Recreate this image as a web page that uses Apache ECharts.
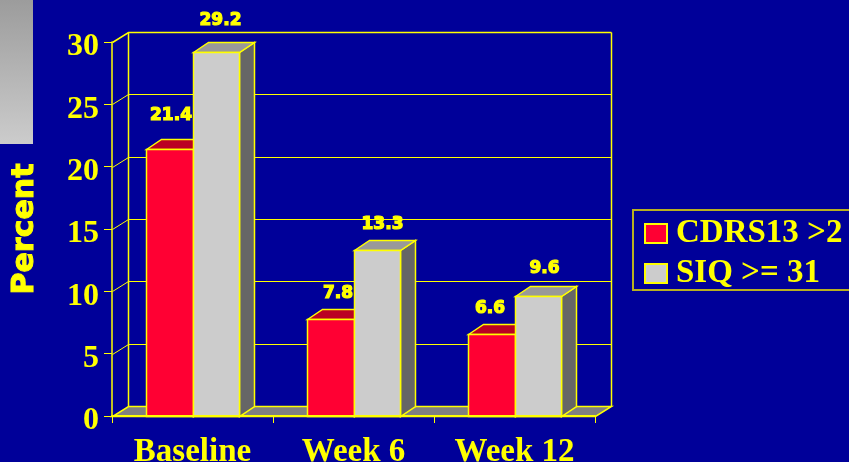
<!DOCTYPE html>
<html>
<head>
<meta charset="utf-8">
<style>html,body{margin:0;padding:0;background:#000099}#chart{width:849px;height:462px}</style>
<script src="https://cdn.jsdelivr.net/npm/echarts@6/dist/echarts.min.js"></script>
</head>
<body>
<div id="chart"></div>
<script>
// Chart values
const categories = ['Baseline', 'Week 6', 'Week 12'];
const cdrsValues = [21.4, 7.8, 6.6];
const siqValues = [29.2, 13.3, 9.6];
const yTicks = [0, 5, 10, 15, 20, 25, 30];
const seriesNames = ['CDRS13 >2', 'SIQ >= 31'];

// Pseudo-3D look
const DEPTH_X = 16, DEPTH_Y = -10, BAR_DX = 15;
const BAR_SHARE = 0.289;
const YELLOW = '#ffff00';
const SERIF = '"Liberation Serif", serif';

// Hand placement of the value labels, relative to each bar's front top edge
const cdrsNudge = [[1, -34], [7, -26], [-2, -26]];
const siqNudge = [[4, -32], [5, -26], [6, -28]];

const snap = v => Math.round(v) + 0.5;
const line = (points, width, color) => ({
  type: 'polyline', shape: { points },
  style: { stroke: color || YELLOW, lineWidth: width, fill: null }, silent: true
});

// Floor, back wall and the gridlines that wrap from the side wall to the back wall
function renderWall(params, api) {
  const g = params.coordSys;
  const x0 = snap(g.x), x1 = snap(g.x + g.width);
  const tick = api.value(0);
  const y = snap(api.coord([0, tick])[1]);
  const children = [];
  if (tick === 0) {
    const topY = snap(api.coord([0, 30])[1]);
    children.push({
      type: 'polygon',
      shape: { points: [[x0, y], [x1, y], [x1 + DEPTH_X, y + DEPTH_Y], [x0 + DEPTH_X, y + DEPTH_Y]] },
      style: { fill: '#808080', stroke: YELLOW, lineWidth: 1.5 }, silent: true
    });
    children.push(line([[x0 + DEPTH_X, y + DEPTH_Y], [x0 + DEPTH_X, topY + DEPTH_Y]], 1.5));
    children.push(line([[x1 + DEPTH_X, y + DEPTH_Y], [x1 + DEPTH_X, topY + DEPTH_Y]], 1.5));
  } else {
    children.push(line([[x0, y], [x0 + DEPTH_X, y + DEPTH_Y], [x1 + DEPTH_X, y + DEPTH_Y]], tick === 30 ? 1.5 : 1));
  }
  return { type: 'group', children };
}

// One 3D bar: front, top and side faces plus its value label
function barRenderer(slot, front, top, side, nudge) {
  return function (params, api) {
    const i = api.value(0), v = api.value(1);
    const band = api.size([1, 0])[0];
    const w = band * BAR_SHARE;
    const c = api.coord([i, v]);
    const base = api.coord([i, 0]);
    const xl = snap(c[0] + slot * w), xr = snap(c[0] + (slot + 1) * w);
    const yt = snap(c[1]), yb = snap(base[1]);
    const dx = BAR_DX, dy = DEPTH_Y;
    const stroke = { stroke: YELLOW, lineWidth: 1.5 };
    const n = nudge[i];
    return {
      type: 'group',
      children: [
        { type: 'polygon', shape: { points: [[xr, yt], [xr + dx, yt + dy], [xr + dx, yb + dy], [xr, yb]] },
          style: Object.assign({ fill: side }, stroke) },
        { type: 'polygon', shape: { points: [[xl, yt], [xl + dx, yt + dy], [xr + dx, yt + dy], [xr, yt]] },
          style: Object.assign({ fill: top }, stroke) },
        { type: 'rect', shape: { x: xl, y: yt, width: xr - xl, height: yb - yt },
          style: Object.assign({ fill: front }, stroke) },
        { type: 'text', x: (xl + xr) / 2 + n[0], y: yt + n[1],
          style: {
            text: v.toFixed(1), fill: YELLOW, align: 'center', verticalAlign: 'middle',
            font: 'bold 17px "DejaVu Sans"', stroke: YELLOW, lineWidth: 1.2
          } }
      ]
    };
  };
}

const chart = echarts.init(document.getElementById('chart'), null, { renderer: 'canvas' });
chart.setOption({
  animation: false,
  backgroundColor: '#000099',
  graphic: [{
    type: 'rect', left: 0, top: 0, z: 1,
    shape: { width: 33, height: 144 },
    style: {
      fill: new echarts.graphic.LinearGradient(0, 0, 0, 1, [
        { offset: 0, color: '#9c9c9c' }, { offset: 1, color: '#cccccc' }
      ])
    }
  }],
  grid: { left: 112, right: 254, top: 42, bottom: 46, outerBoundsMode: 'none' },
  legend: {
    data: seriesNames, orient: 'vertical', left: 633, top: 210,
    padding: [7, 20, 0, 11], itemWidth: 22, itemHeight: 19, itemGap: 7,
    icon: 'rect',
    borderColor: '#b8b020', borderWidth: 2,
    textStyle: { color: YELLOW, fontFamily: SERIF, fontWeight: 'bold', fontSize: 33, padding: [0, 0, 0, 4] }
  },
  xAxis: {
    type: 'category', data: categories, z: 5,
    axisLine: { lineStyle: { color: YELLOW, width: 2 } },
    axisTick: { show: true, alignWithLabel: false, length: 7, lineStyle: { color: YELLOW } },
    axisLabel: { color: YELLOW, fontFamily: SERIF, fontWeight: 'bold', fontSize: 33, margin: 20 }
  },
  yAxis: {
    type: 'value', min: 0, max: 30, interval: 5,
    name: 'Percent', nameLocation: 'middle', nameGap: 72, nameRotate: 90,
    nameTextStyle: {
      color: YELLOW, fontFamily: '"DejaVu Sans"', fontWeight: 'bold', fontSize: 30,
      textBorderColor: YELLOW, textBorderWidth: 1
    },
    axisLine: { show: true, lineStyle: { color: YELLOW, width: 1.5 } },
    axisTick: { show: true, length: 8, lineStyle: { color: YELLOW } },
    axisLabel: {
      color: YELLOW, fontFamily: SERIF, fontWeight: 'bold', fontSize: 32, margin: 13,
      verticalAlign: 'top', lineHeight: 10
    },
    splitLine: { show: false }
  },
  series: [
    { type: 'custom', silent: true, data: yTicks.map(t => [t]), encode: { y: 0 }, renderItem: renderWall, z: 1 },
    {
      name: seriesNames[0], type: 'custom', z: 2, clip: false,
      itemStyle: { color: '#ff0033', borderColor: YELLOW, borderWidth: 1 },
      data: cdrsValues.map((v, i) => [i, v]), encode: { x: 0, y: 1 },
      renderItem: barRenderer(-1, '#ff0033', '#bb0022', '#880022', cdrsNudge)
    },
    {
      name: seriesNames[1], type: 'custom', z: 3, clip: false,
      itemStyle: { color: '#cccccc', borderColor: YELLOW, borderWidth: 1 },
      data: siqValues.map((v, i) => [i, v]), encode: { x: 0, y: 1 },
      renderItem: barRenderer(0, '#cccccc', '#999999', '#666666', siqNudge)
    }
  ]
});
</script>
</body>
</html>
